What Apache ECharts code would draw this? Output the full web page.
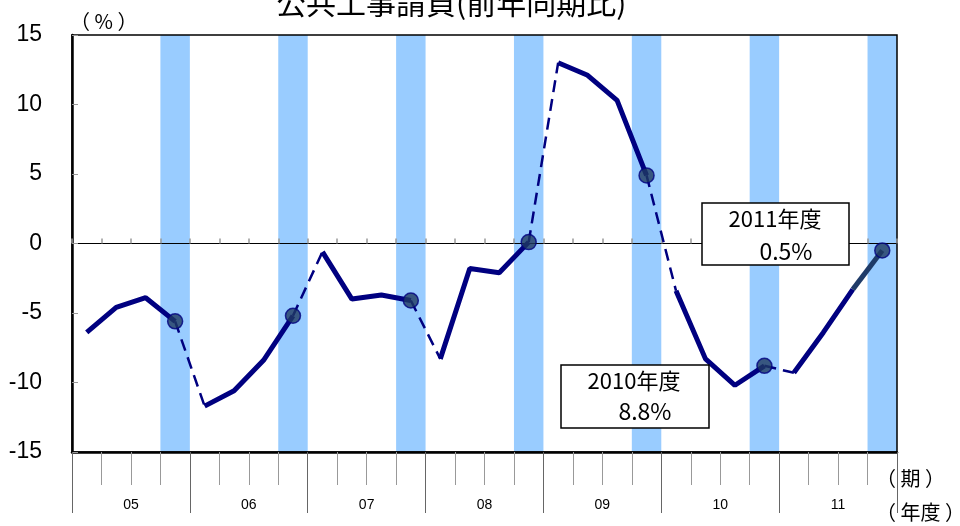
<!DOCTYPE html>
<html><head><meta charset="utf-8">
<script src="https://cdn.jsdelivr.net/npm/echarts@6/dist/echarts.min.js"></script>
<style>html,body{margin:0;padding:0;background:#fff}#c{width:960px;height:526px}</style>
</head><body><div id="c"></div>
<script>
// ---- data ----
const fiscalYears = ['05', '06', '07', '08', '09', '10', '11'];
const quarterNames = ['Q1', 'Q2', 'Q3', 'Q4'];
const yoyChange = [
  -6.4, -4.6, -3.9, -5.6,
  -11.7, -10.6, -8.4, -5.2,
  -0.6, -4.0, -3.7, -4.1,
  -8.3, -1.8, -2.1, 0.1,
  13.0, 12.1, 10.3, 4.9,
  -3.4, -8.3, -10.2, -8.8,
  -9.3, -6.4, -3.3, -0.5
];
const shadedQuarter = 'Q4';
const yRange = [-15, 15];
const yStep = 5;
const titleText = '公共工事請負(前年同期比)';
const unitLabel = '（ % ）';
const periodLabel = '（ 期 ）';
const yearLabel = '（ 年度 ）';
const noteYears = ['2011年度', '2010年度'];
const noteValues = ['0.5%', '8.8%'];

// ---- build ----
const quarterCats = [];
fiscalYears.forEach(y => quarterNames.forEach(q => quarterCats.push(y + q)));
const N = quarterCats.length;
const isShaded = i => quarterNames[i % 4] === shadedQuarter;

function slice(from, to) {
  return yoyChange.map((v, i) => (i >= from && i <= to ? v : null));
}

const series = [];
series.push({
  type: 'bar', stack: 'band', xAxisIndex: 0, yAxisIndex: 0, barWidth: '100%', z: 1, silent: true,
  itemStyle: { color: '#99CCFF' },
  data: quarterCats.map((c, i) => (isShaded(i) ? yRange[1] : null))
});
series.push({
  type: 'bar', stack: 'band', xAxisIndex: 0, yAxisIndex: 0, barWidth: '100%', z: 1, silent: true,
  itemStyle: { color: '#99CCFF' },
  data: quarterCats.map((c, i) => (isShaded(i) ? yRange[0] : null))
});
const lastIdx = N - 1;
fiscalYears.forEach((y, k) => {
  const s = k * 4, e = k * 4 + 3;
  const end = (e === lastIdx) ? e - 1 : e;
  series.push({
    type: 'line', xAxisIndex: 0, yAxisIndex: 0, symbol: 'none', z: 5, connectNulls: false,
    lineStyle: { color: '#000080', width: 5 },
    data: slice(s, end)
  });
  if (e === lastIdx) {
    series.push({
      type: 'line', xAxisIndex: 0, yAxisIndex: 0, symbol: 'none', z: 5,
      lineStyle: { color: '#1F3B68', width: 5 },
      data: slice(e - 1, e)
    });
  }
  if (k < fiscalYears.length - 1) {
    series.push({
      type: 'line', xAxisIndex: 0, yAxisIndex: 0, symbol: 'none', z: 5,
      lineStyle: { color: '#000080', width: 2.5, type: [12, 7] },
      data: slice(e, e + 1)
    });
  }
});
series.push({
  type: 'scatter', xAxisIndex: 0, yAxisIndex: 0, z: 6, symbolSize: 15,
  itemStyle: { color: '#1F3A60', borderColor: '#000080', borderWidth: 1.5 },
  data: yoyChange.map((v, i) => (isShaded(i) ? v : null))
});

const gridRect = { left: 72, right: 63, top: 35, bottom: 74 };
const cjk = 'Noto Sans CJK JP';
const latin = 'Liberation Sans';

const option = {
  animation: false,
  title: {
    text: titleText, left: 271, top: -17,
    textStyle: { fontSize: 30, fontWeight: 'normal', color: '#000', fontFamily: cjk }
  },
  grid: [
    Object.assign({ show: true, borderColor: '#000', borderWidth: 1.5, z: 3, backgroundColor: 'transparent' }, gridRect),
    Object.assign({}, gridRect)
  ],
  xAxis: [
    {
      type: 'category', gridIndex: 0, data: quarterCats, position: 'bottom', boundaryGap: true, z: 3,
      axisLine: { show: true, onZero: false, lineStyle: { color: '#000', width: 2.5 } },
      axisTick: { show: true, interval: 0, length: 33, lineStyle: { color: '#999', width: 1 } },
      axisLabel: { show: false }, splitLine: { show: false }
    },
    {
      type: 'category', gridIndex: 0, data: quarterCats, position: 'top', boundaryGap: true, z: 3,
      axisLine: { show: true, onZero: true, lineStyle: { color: '#000', width: 1 } },
      axisTick: { show: true, interval: 0, length: 5, lineStyle: { color: '#999', width: 1.5 } },
      axisLabel: { show: false }, splitLine: { show: false }
    },
    {
      type: 'category', gridIndex: 1, data: fiscalYears, position: 'bottom', boundaryGap: true, z: 3,
      axisLine: { onZero: false, show: false },
      axisTick: { show: true, interval: 0, length: 61, lineStyle: { color: '#666', width: 1 } },
      axisLabel: { show: true, interval: 0, margin: 46, fontSize: 14, color: '#000', fontFamily: latin },
      splitLine: { show: false }
    }
  ],
  yAxis: [
    {
      type: 'value', gridIndex: 0, min: yRange[0], max: yRange[1], interval: yStep, z: 3,
      axisLine: { show: true, onZero: false, lineStyle: { color: '#000', width: 2.5 } },
      axisTick: { show: true, inside: true, length: 6, lineStyle: { color: '#999' } },
      axisLabel: { fontSize: 23, color: '#000', margin: 30, fontFamily: latin },
      splitLine: { show: false }
    },
    { type: 'value', gridIndex: 1, min: yRange[0], max: yRange[1], show: false }
  ],
  graphic: [
    { type: 'rect', z: 100, shape: { x: 702, y: 203, width: 147, height: 62 }, style: { fill: '#fff', stroke: '#000', lineWidth: 1.5 } },
    { type: 'text', z: 101, x: 775, y: 219, style: { text: noteYears[0], fontSize: 22, fontFamily: cjk, fill: '#000', align: 'center', verticalAlign: 'middle' } },
    { type: 'text', z: 101, x: 786, y: 251, style: { text: noteValues[0], fontSize: 23, fontFamily: cjk, fill: '#000', align: 'center', verticalAlign: 'middle' } },
    { type: 'rect', z: 100, shape: { x: 561, y: 365, width: 148, height: 63 }, style: { fill: '#fff', stroke: '#000', lineWidth: 1.5 } },
    { type: 'text', z: 101, x: 634, y: 381, style: { text: noteYears[1], fontSize: 22, fontFamily: cjk, fill: '#000', align: 'center', verticalAlign: 'middle' } },
    { type: 'text', z: 101, x: 645, y: 411, style: { text: noteValues[1], fontSize: 23, fontFamily: cjk, fill: '#000', align: 'center', verticalAlign: 'middle' } },
    { type: 'text', z: 101, x: 70, y: 21, style: { text: unitLabel, fontSize: 20, fontFamily: cjk, fill: '#000', align: 'left', verticalAlign: 'middle' } },
    { type: 'text', z: 101, x: 876, y: 478, style: { text: periodLabel, fontSize: 20, fontFamily: cjk, fill: '#000', align: 'left', verticalAlign: 'middle' } },
    { type: 'text', z: 101, x: 876, y: 512, style: { text: yearLabel, fontSize: 20, fontFamily: cjk, fill: '#000', align: 'left', verticalAlign: 'middle' } }
  ],
  series: series
};

const chart = echarts.init(document.getElementById('c'), null, { renderer: 'canvas' });
chart.setOption(option);
</script>
</body></html>
